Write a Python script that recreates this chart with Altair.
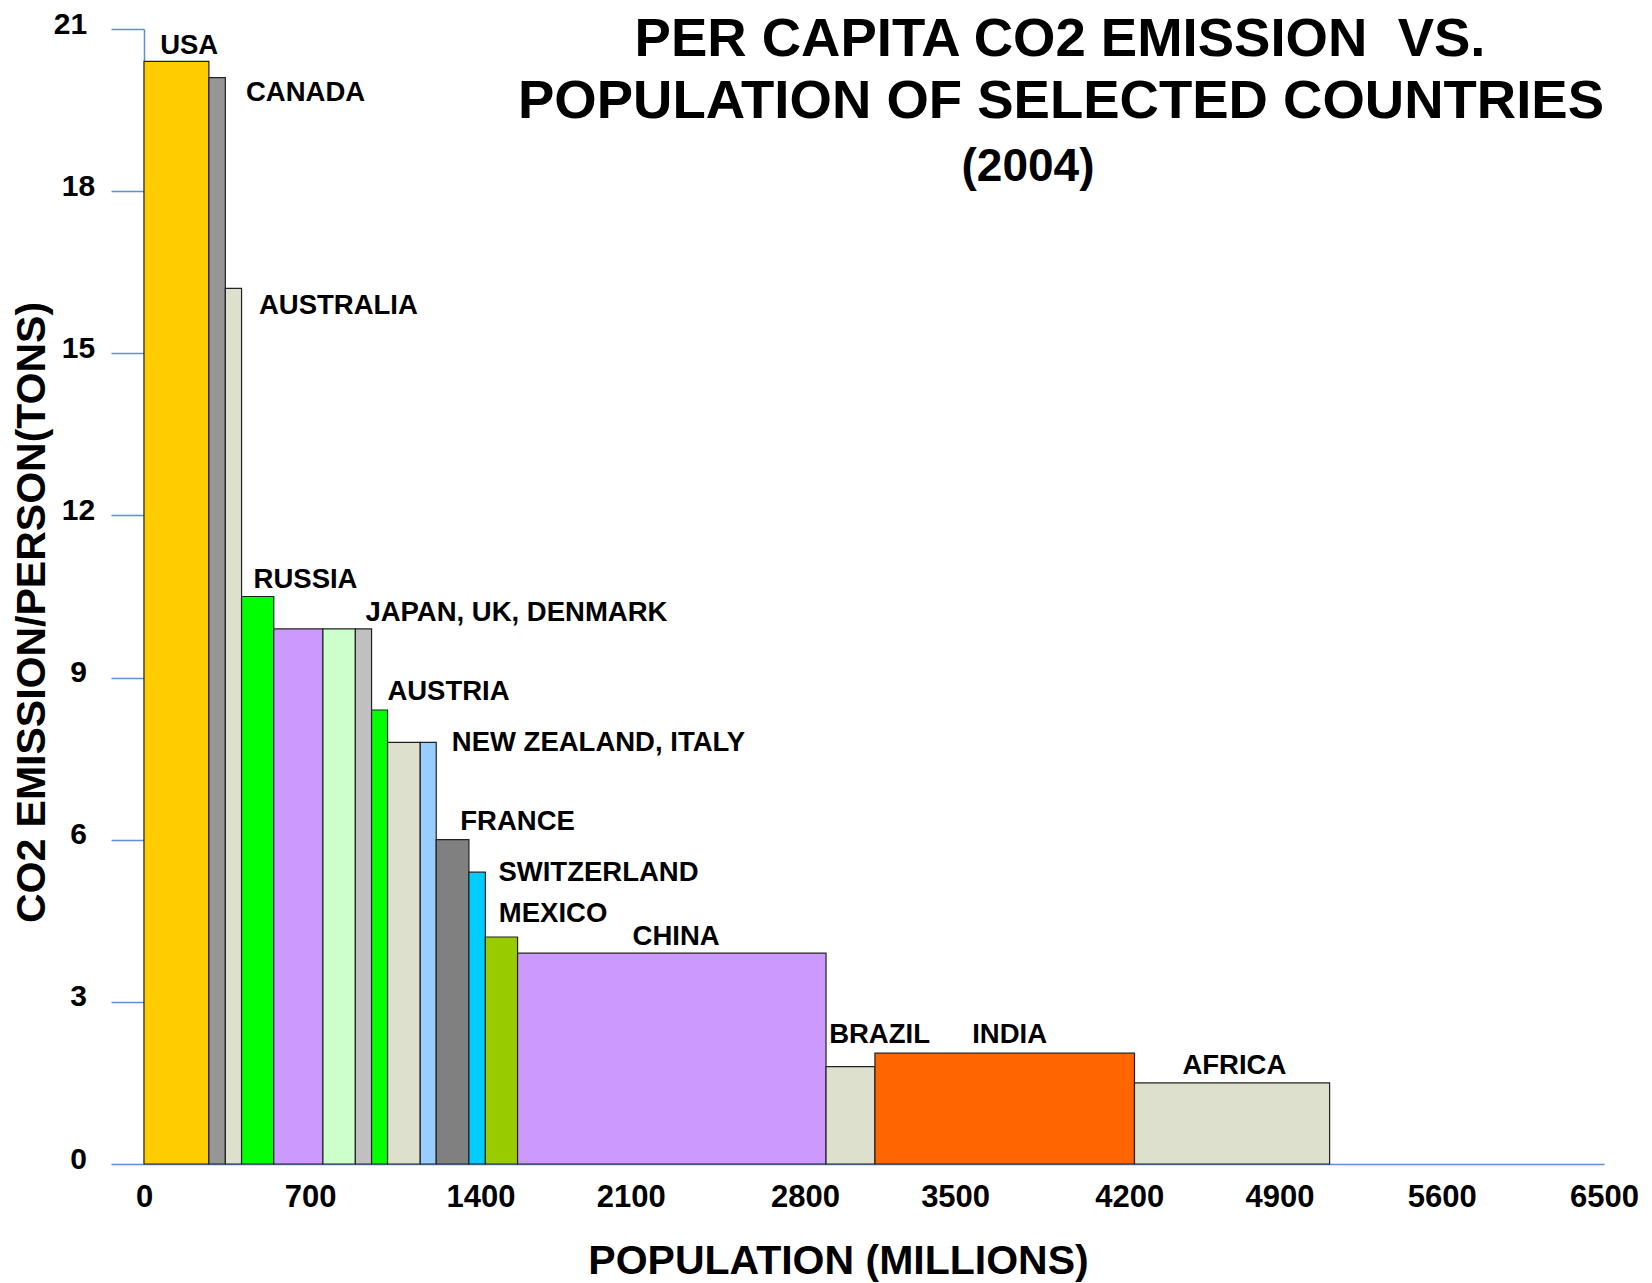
import altair as alt
import pandas as pd

# ---- data ----
countries = ["USA", "CANADA", "AUSTRALIA", "RUSSIA", "JAPAN", "UK", "DENMARK",
             "AUSTRIA", "NEW ZEALAND", "ITALY", "FRANCE", "SWITZERLAND",
             "MEXICO", "CHINA", "BRAZIL", "INDIA", "AFRICA"]
population = [280, 71, 70, 139, 212, 140, 70, 69, 141, 69, 141, 71, 139,
              1331, 211, 1120, 842]
co2_per_person = [20.4, 20.1, 16.2, 10.5, 9.9, 9.9, 9.9, 8.4, 7.8, 7.8, 6.0,
                  5.4, 4.2, 3.9, 1.8, 2.05, 1.5]
bar_colors = ["#FFCC00", "#969696", "#DDE0CC", "#00FF00", "#CC99FF", "#CCFFCC",
              "#C0C0C0", "#00FF00", "#DDE0CC", "#99CCFF", "#808080", "#00CCFF",
              "#99CC00", "#CC99FF", "#DDE0CC", "#FF6600", "#DDE0CC"]

label_texts = ["USA", "CANADA", "AUSTRALIA", "RUSSIA", "JAPAN, UK, DENMARK",
               "AUSTRIA", "NEW ZEALAND, ITALY", "FRANCE", "SWITZERLAND",
               "MEXICO", "CHINA", "BRAZIL", "INDIA", "AFRICA"]
label_pop = [195, 697, 839, 697, 1607, 1314, 1961, 1612, 1961, 1765, 2296,
             3174, 3735, 4705]
label_co2 = [20.54, 19.66, 15.73, 10.66, 10.05, 8.59, 7.65, 6.18, 5.24, 4.47,
             4.06, 2.24, 2.24, 1.66]

x_tick_values = [0, 700, 1400, 2100, 2800, 3500, 4200, 4900, 5600, 6300]
x_tick_labels = ["0", "700", "1400", "2100", "2800", "3500", "4200", "4900",
                 "5600", "6500"]
y_tick_values = [0, 3, 6, 9, 12, 15, 18, 21]

title_lines = ["PER CAPITA CO2 EMISSION\u00a0 VS.",
               "POPULATION OF SELECTED COUNTRIES", "(2004)"]

# ---- tables ----
bars = pd.DataFrame({"country": countries, "population": population,
                     "co2": co2_per_person})
bars["end"] = bars["population"].cumsum()
bars["start"] = bars["end"] - bars["population"]

labels = pd.DataFrame({"label": label_texts, "lx": label_pop, "ly": label_co2})

FONT = "Liberation Sans"
AXIS_BLUE = "#5B8FD8"

vals_js = "[" + ",".join(str(v) for v in x_tick_values) + "]"
labs_js = "[" + ",".join("'" + s + "'" for s in x_tick_labels) + "]"

x_scale = alt.Scale(domain=[0, 6300], nice=False, zero=True)
y_scale = alt.Scale(domain=[0, 21], nice=False)

x_axis = alt.Axis(
    values=x_tick_values,
    labelExpr=f"{labs_js}[indexof({vals_js}, datum.value)]",
    labelOffset={"expr": "(datum.value == 1400 || datum.value == 2800 || datum.value == 4200) ? 12 : (datum.value == 700 ? 4 : 0)"},
    ticks=False, grid=False, domainColor=AXIS_BLUE, domainWidth=1.5,
    labelFont=FONT, labelFontSize=31, labelFontWeight="bold", labelColor="black",
    labelPadding=18, labelFlush=False, labelOverlap=False,
    title="POPULATION (MILLIONS)", titleFont=FONT, titleFontSize=41,
    titleFontWeight="bold", titleColor="black", titleX=694, titleY=109,
    titleAlign="center", titleBaseline="alphabetic",
)
y_axis = alt.Axis(
    values=y_tick_values, grid=False, domainColor=AXIS_BLUE, domainWidth=1.5,
    tickColor=AXIS_BLUE, tickSize=33, tickWidth=1.5,
    labelFont=FONT, labelFontSize=30, labelFontWeight="bold", labelColor="black",
    labelAlign="center", labelBaseline="middle",
    labelPadding={"expr": "datum.value == 21 ? 41 : 33"}, labelOffset=-5,
    labelFlush=False, labelOverlap=False,
    title="CO2 EMISSION/PERSON(TONS)", titleFont=FONT, titleFontSize=41,
    titleFontWeight="bold", titleColor="black", titleAngle=270,
    titleX=-112, titleY=583, titleAlign="center", titleBaseline="middle",
)

rects = alt.Chart(bars).mark_rect(stroke="#222222", strokeWidth=1.2).encode(
    x=alt.X("start:Q", scale=x_scale, axis=x_axis),
    x2="end:Q",
    y=alt.Y("co2:Q", scale=y_scale, axis=y_axis),
    y2=alt.datum(0),
    color=alt.Color("country:N", scale=alt.Scale(domain=countries, range=bar_colors),
                    legend=None),
)

texts = alt.Chart(labels).mark_text(
    font=FONT, fontSize=27.5, fontWeight="bold", color="black",
    align="center", baseline="alphabetic",
).encode(x=alt.X("lx:Q", scale=x_scale), y=alt.Y("ly:Q", scale=y_scale),
         text="label:N")

t1 = alt.Chart(pd.DataFrame({"t": [title_lines[0]]})).mark_text(
    font=FONT, fontSize=54.5, fontWeight="bold", color="black",
    align="center", baseline="alphabetic").encode(
    x=alt.value(916), y=alt.value(27), text="t:N")
t2 = alt.Chart(pd.DataFrame({"t": [title_lines[1]]})).mark_text(
    font=FONT, fontSize=54.5, fontWeight="bold", color="black",
    align="center", baseline="alphabetic").encode(
    x=alt.value(917), y=alt.value(89), text="t:N")
t3 = alt.Chart(pd.DataFrame({"t": [title_lines[2]]})).mark_text(
    font=FONT, fontSize=46, fontWeight="bold", color="black",
    align="center", baseline="alphabetic").encode(
    x=alt.value(884), y=alt.value(152), text="t:N")

chart = alt.layer(rects, texts, t1, t2, t3).properties(
    width=1460, height=1135,
    padding={"left": 136, "top": 21, "right": 40, "bottom": 118},
    autosize=alt.AutoSizeParams(type="none"),
    background="white",
).configure_view(strokeWidth=0)

chart.save("out.html", embed_options={"renderer": "svg", "actions": False})
